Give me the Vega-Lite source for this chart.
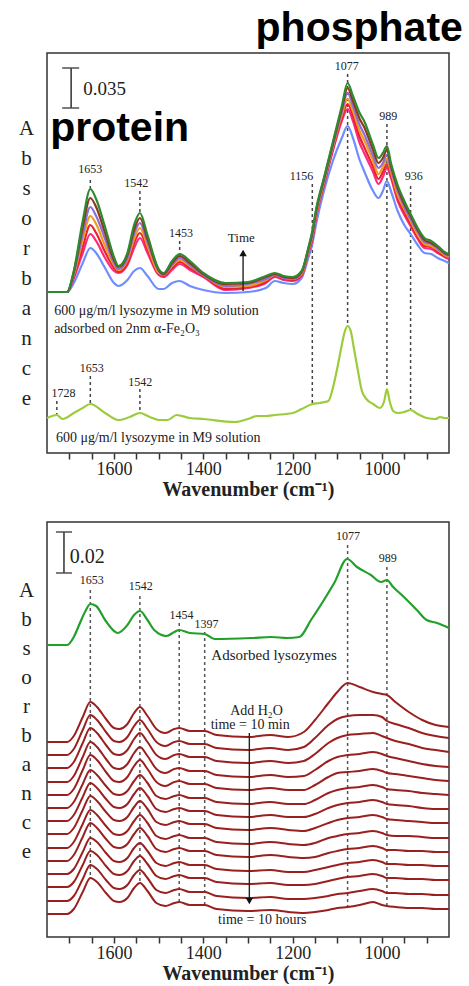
{
"$schema":"https://vega.github.io/schema/vega-lite/v6.json",
"padding":{"left":17,"top":7,"right":0,"bottom":0},
"spacing":21,
"config":{"view":{"stroke":"#333","strokeWidth":1.5},"font":"Liberation Serif",
"axisX":{"labelFontSize":18,"labelColor":"#222","labelFont":"Liberation Serif","tickSize":6,"tickWidth":1.5,"tickColor":"#333","domain":false,"grid":false,"labelPadding":1,"titleFont":"Liberation Serif","titleFontSize":20,"titleFontWeight":"bold","titleColor":"#222","titlePadding":1,"labelOverlap":false,"labelFlush":false}},
"vconcat":[
{
"width":402,"height":400,
"encoding":{
"x":{"field":"w","type":"quantitative","scale":{"domain":[850,1750],"reverse":true,"nice":false,"zero":false},"axis":{"values":[900,950,1000,1050,1100,1150,1200,1250,1300,1350,1400,1450,1500,1550,1600,1650,1700],"format":"d","labelExpr":"datum.value % 200 === 0 ? datum.label : ''","title":"Wavenumber (cm⁻¹)"}},
"y":{"field":"a","type":"quantitative","scale":{"domain":[0,400],"nice":false,"zero":false},"axis":{"title":["A","b","s","o","r","b","a","n","c","e"],"titleAngle":0,"titleAlign":"center","titleBaseline":"middle","titleX":-21,"titleY":75,"titleLineHeight":30,"titleFontSize":21,"titleFont":"Liberation Serif","titleFontWeight":"normal","titleColor":"#222","labels":false,"ticks":false,"domain":false,"grid":false}}
},
"layer":[
{"data":{"values":[{"w":1653,"a":273,"a2":264},{"w":1542,"a":262,"a2":240},{"w":1453,"a":212,"a2":199},{"w":1156,"a":269,"a2":50},{"w":1077,"a":379,"a2":127},{"w":989,"a":329,"a2":65},{"w":936,"a":267,"a2":44},{"w":1728,"a":52,"a2":39},{"w":1653,"a":77,"a2":49},{"w":1542,"a":64,"a2":41}]},
"mark":{"type":"rule","strokeDash":[3,3],"strokeWidth":1.5,"color":"#444"},"encoding":{"y2":{"field":"a2"}}},
{"data":{"values":[
{"s":"a0","w":1750,"a":161},{"s":"a0","w":1705,"a":161},{"s":"a0","w":1690,"a":170},{"s":"a0","w":1670,"a":190},{"s":"a0","w":1653,"a":205},{"s":"a0","w":1640,"a":200},{"s":"a0","w":1620,"a":185},{"s":"a0","w":1600,"a":170},{"s":"a0","w":1590,"a":167},{"s":"a0","w":1570,"a":173},{"s":"a0","w":1555,"a":182},{"s":"a0","w":1542,"a":185},{"s":"a0","w":1525,"a":177},{"s":"a0","w":1500,"a":164},{"s":"a0","w":1489,"a":164},{"s":"a0","w":1470,"a":170},{"s":"a0","w":1453,"a":172},{"s":"a0","w":1430,"a":167},{"s":"a0","w":1400,"a":163},{"s":"a0","w":1350,"a":160},{"s":"a0","w":1300,"a":161},{"s":"a0","w":1260,"a":165},{"s":"a0","w":1240,"a":172},{"s":"a0","w":1220,"a":170},{"s":"a0","w":1200,"a":169},{"s":"a0","w":1180,"a":175},{"s":"a0","w":1165,"a":195},{"s":"a0","w":1156,"a":209},{"s":"a0","w":1147,"a":230},{"s":"a0","w":1130,"a":262},{"s":"a0","w":1110,"a":292},{"s":"a0","w":1090,"a":315},{"s":"a0","w":1077,"a":327},{"s":"a0","w":1065,"a":315},{"s":"a0","w":1050,"a":293},{"s":"a0","w":1040,"a":282},{"s":"a0","w":1020,"a":262},{"s":"a0","w":1008,"a":255},{"s":"a0","w":998,"a":262},{"s":"a0","w":989,"a":272},{"s":"a0","w":980,"a":262},{"s":"a0","w":965,"a":242},{"s":"a0","w":950,"a":228},{"s":"a0","w":936,"a":219},{"s":"a0","w":920,"a":208},{"s":"a0","w":905,"a":200},{"s":"a0","w":890,"a":199},{"s":"a0","w":875,"a":195},{"s":"a0","w":860,"a":192},{"s":"a0","w":850,"a":190},
{"s":"a1","w":1750,"a":161},{"s":"a1","w":1705,"a":161},{"s":"a1","w":1690,"a":175},{"s":"a1","w":1670,"a":200},{"s":"a1","w":1653,"a":219},{"s":"a1","w":1640,"a":212},{"s":"a1","w":1620,"a":195},{"s":"a1","w":1600,"a":182},{"s":"a1","w":1590,"a":180},{"s":"a1","w":1570,"a":188},{"s":"a1","w":1555,"a":205},{"s":"a1","w":1542,"a":215},{"s":"a1","w":1525,"a":200},{"s":"a1","w":1500,"a":178},{"s":"a1","w":1489,"a":176},{"s":"a1","w":1470,"a":183},{"s":"a1","w":1453,"a":189},{"s":"a1","w":1430,"a":183},{"s":"a1","w":1400,"a":176},{"s":"a1","w":1350,"a":163},{"s":"a1","w":1300,"a":165},{"s":"a1","w":1260,"a":170},{"s":"a1","w":1240,"a":176},{"s":"a1","w":1220,"a":173},{"s":"a1","w":1200,"a":172},{"s":"a1","w":1180,"a":177},{"s":"a1","w":1165,"a":200},{"s":"a1","w":1156,"a":213},{"s":"a1","w":1147,"a":237},{"s":"a1","w":1130,"a":268},{"s":"a1","w":1110,"a":302},{"s":"a1","w":1090,"a":332},{"s":"a1","w":1077,"a":344},{"s":"a1","w":1065,"a":332},{"s":"a1","w":1050,"a":310},{"s":"a1","w":1040,"a":300},{"s":"a1","w":1020,"a":281},{"s":"a1","w":1008,"a":269},{"s":"a1","w":998,"a":276},{"s":"a1","w":989,"a":285},{"s":"a1","w":980,"a":275},{"s":"a1","w":965,"a":252},{"s":"a1","w":950,"a":238},{"s":"a1","w":936,"a":227},{"s":"a1","w":920,"a":214},{"s":"a1","w":905,"a":205},{"s":"a1","w":890,"a":204},{"s":"a1","w":875,"a":200},{"s":"a1","w":860,"a":196},{"s":"a1","w":850,"a":194},
{"s":"a2","w":1750,"a":161},{"s":"a2","w":1705,"a":161},{"s":"a2","w":1690,"a":176},{"s":"a2","w":1670,"a":206},{"s":"a2","w":1653,"a":228},{"s":"a2","w":1640,"a":220},{"s":"a2","w":1620,"a":201},{"s":"a2","w":1600,"a":185},{"s":"a2","w":1590,"a":181},{"s":"a2","w":1570,"a":190},{"s":"a2","w":1555,"a":210},{"s":"a2","w":1542,"a":220},{"s":"a2","w":1525,"a":204},{"s":"a2","w":1500,"a":179},{"s":"a2","w":1489,"a":177},{"s":"a2","w":1470,"a":185},{"s":"a2","w":1453,"a":191},{"s":"a2","w":1430,"a":185},{"s":"a2","w":1400,"a":177},{"s":"a2","w":1350,"a":164},{"s":"a2","w":1300,"a":166},{"s":"a2","w":1260,"a":171},{"s":"a2","w":1240,"a":177},{"s":"a2","w":1220,"a":174},{"s":"a2","w":1200,"a":173},{"s":"a2","w":1180,"a":178},{"s":"a2","w":1165,"a":201},{"s":"a2","w":1156,"a":215},{"s":"a2","w":1147,"a":239},{"s":"a2","w":1130,"a":269},{"s":"a2","w":1110,"a":304},{"s":"a2","w":1090,"a":335},{"s":"a2","w":1077,"a":349},{"s":"a2","w":1065,"a":337},{"s":"a2","w":1050,"a":316},{"s":"a2","w":1040,"a":306},{"s":"a2","w":1020,"a":286},{"s":"a2","w":1008,"a":274},{"s":"a2","w":998,"a":281},{"s":"a2","w":989,"a":289},{"s":"a2","w":980,"a":278},{"s":"a2","w":965,"a":255},{"s":"a2","w":950,"a":241},{"s":"a2","w":936,"a":229},{"s":"a2","w":920,"a":216},{"s":"a2","w":905,"a":207},{"s":"a2","w":890,"a":206},{"s":"a2","w":875,"a":201},{"s":"a2","w":860,"a":197},{"s":"a2","w":850,"a":195},
{"s":"a3","w":1750,"a":161},{"s":"a3","w":1705,"a":161},{"s":"a3","w":1690,"a":178},{"s":"a3","w":1670,"a":213},{"s":"a3","w":1653,"a":237},{"s":"a3","w":1640,"a":229},{"s":"a3","w":1620,"a":207},{"s":"a3","w":1600,"a":188},{"s":"a3","w":1590,"a":183},{"s":"a3","w":1570,"a":193},{"s":"a3","w":1555,"a":214},{"s":"a3","w":1542,"a":225},{"s":"a3","w":1525,"a":207},{"s":"a3","w":1500,"a":180},{"s":"a3","w":1489,"a":178},{"s":"a3","w":1470,"a":187},{"s":"a3","w":1453,"a":193},{"s":"a3","w":1430,"a":187},{"s":"a3","w":1400,"a":178},{"s":"a3","w":1350,"a":166},{"s":"a3","w":1300,"a":167},{"s":"a3","w":1260,"a":173},{"s":"a3","w":1240,"a":178},{"s":"a3","w":1220,"a":175},{"s":"a3","w":1200,"a":174},{"s":"a3","w":1180,"a":179},{"s":"a3","w":1165,"a":202},{"s":"a3","w":1156,"a":217},{"s":"a3","w":1147,"a":240},{"s":"a3","w":1130,"a":271},{"s":"a3","w":1110,"a":306},{"s":"a3","w":1090,"a":338},{"s":"a3","w":1077,"a":354},{"s":"a3","w":1065,"a":342},{"s":"a3","w":1050,"a":322},{"s":"a3","w":1040,"a":313},{"s":"a3","w":1020,"a":292},{"s":"a3","w":1008,"a":279},{"s":"a3","w":998,"a":286},{"s":"a3","w":989,"a":294},{"s":"a3","w":980,"a":281},{"s":"a3","w":965,"a":258},{"s":"a3","w":950,"a":244},{"s":"a3","w":936,"a":232},{"s":"a3","w":920,"a":218},{"s":"a3","w":905,"a":209},{"s":"a3","w":890,"a":207},{"s":"a3","w":875,"a":203},{"s":"a3","w":860,"a":198},{"s":"a3","w":850,"a":196},
{"s":"a4","w":1750,"a":161},{"s":"a4","w":1705,"a":161},{"s":"a4","w":1690,"a":179},{"s":"a4","w":1670,"a":219},{"s":"a4","w":1653,"a":246},{"s":"a4","w":1640,"a":237},{"s":"a4","w":1620,"a":214},{"s":"a4","w":1600,"a":190},{"s":"a4","w":1590,"a":184},{"s":"a4","w":1570,"a":195},{"s":"a4","w":1555,"a":219},{"s":"a4","w":1542,"a":230},{"s":"a4","w":1525,"a":211},{"s":"a4","w":1500,"a":182},{"s":"a4","w":1489,"a":178},{"s":"a4","w":1470,"a":188},{"s":"a4","w":1453,"a":195},{"s":"a4","w":1430,"a":188},{"s":"a4","w":1400,"a":178},{"s":"a4","w":1350,"a":167},{"s":"a4","w":1300,"a":169},{"s":"a4","w":1260,"a":174},{"s":"a4","w":1240,"a":178},{"s":"a4","w":1220,"a":175},{"s":"a4","w":1200,"a":174},{"s":"a4","w":1180,"a":180},{"s":"a4","w":1165,"a":203},{"s":"a4","w":1156,"a":218},{"s":"a4","w":1147,"a":242},{"s":"a4","w":1130,"a":272},{"s":"a4","w":1110,"a":307},{"s":"a4","w":1090,"a":341},{"s":"a4","w":1077,"a":360},{"s":"a4","w":1065,"a":347},{"s":"a4","w":1050,"a":328},{"s":"a4","w":1040,"a":319},{"s":"a4","w":1020,"a":297},{"s":"a4","w":1008,"a":285},{"s":"a4","w":998,"a":290},{"s":"a4","w":989,"a":298},{"s":"a4","w":980,"a":284},{"s":"a4","w":965,"a":262},{"s":"a4","w":950,"a":246},{"s":"a4","w":936,"a":234},{"s":"a4","w":920,"a":221},{"s":"a4","w":905,"a":211},{"s":"a4","w":890,"a":209},{"s":"a4","w":875,"a":204},{"s":"a4","w":860,"a":199},{"s":"a4","w":850,"a":197},
{"s":"a5","w":1750,"a":161},{"s":"a5","w":1705,"a":161},{"s":"a5","w":1690,"a":181},{"s":"a5","w":1670,"a":226},{"s":"a5","w":1653,"a":255},{"s":"a5","w":1640,"a":246},{"s":"a5","w":1620,"a":220},{"s":"a5","w":1600,"a":193},{"s":"a5","w":1590,"a":186},{"s":"a5","w":1570,"a":198},{"s":"a5","w":1555,"a":223},{"s":"a5","w":1542,"a":235},{"s":"a5","w":1525,"a":214},{"s":"a5","w":1500,"a":183},{"s":"a5","w":1489,"a":179},{"s":"a5","w":1470,"a":190},{"s":"a5","w":1453,"a":197},{"s":"a5","w":1430,"a":190},{"s":"a5","w":1400,"a":179},{"s":"a5","w":1350,"a":169},{"s":"a5","w":1300,"a":170},{"s":"a5","w":1260,"a":176},{"s":"a5","w":1240,"a":179},{"s":"a5","w":1220,"a":176},{"s":"a5","w":1200,"a":175},{"s":"a5","w":1180,"a":181},{"s":"a5","w":1165,"a":204},{"s":"a5","w":1156,"a":220},{"s":"a5","w":1147,"a":243},{"s":"a5","w":1130,"a":274},{"s":"a5","w":1110,"a":309},{"s":"a5","w":1090,"a":344},{"s":"a5","w":1077,"a":365},{"s":"a5","w":1065,"a":352},{"s":"a5","w":1050,"a":334},{"s":"a5","w":1040,"a":326},{"s":"a5","w":1020,"a":303},{"s":"a5","w":1008,"a":290},{"s":"a5","w":998,"a":295},{"s":"a5","w":989,"a":303},{"s":"a5","w":980,"a":287},{"s":"a5","w":965,"a":265},{"s":"a5","w":950,"a":249},{"s":"a5","w":936,"a":237},{"s":"a5","w":920,"a":223},{"s":"a5","w":905,"a":213},{"s":"a5","w":890,"a":210},{"s":"a5","w":875,"a":206},{"s":"a5","w":860,"a":200},{"s":"a5","w":850,"a":198},
{"s":"a6","w":1750,"a":161},{"s":"a6","w":1705,"a":161},{"s":"a6","w":1690,"a":182},{"s":"a6","w":1670,"a":232},{"s":"a6","w":1653,"a":264},{"s":"a6","w":1640,"a":254},{"s":"a6","w":1620,"a":226},{"s":"a6","w":1600,"a":196},{"s":"a6","w":1590,"a":187},{"s":"a6","w":1570,"a":200},{"s":"a6","w":1555,"a":228},{"s":"a6","w":1542,"a":240},{"s":"a6","w":1525,"a":218},{"s":"a6","w":1500,"a":184},{"s":"a6","w":1489,"a":180},{"s":"a6","w":1470,"a":192},{"s":"a6","w":1453,"a":199},{"s":"a6","w":1430,"a":192},{"s":"a6","w":1400,"a":180},{"s":"a6","w":1350,"a":170},{"s":"a6","w":1300,"a":171},{"s":"a6","w":1260,"a":177},{"s":"a6","w":1240,"a":180},{"s":"a6","w":1220,"a":177},{"s":"a6","w":1200,"a":176},{"s":"a6","w":1180,"a":182},{"s":"a6","w":1165,"a":205},{"s":"a6","w":1156,"a":222},{"s":"a6","w":1147,"a":245},{"s":"a6","w":1130,"a":275},{"s":"a6","w":1110,"a":311},{"s":"a6","w":1090,"a":347},{"s":"a6","w":1077,"a":370},{"s":"a6","w":1065,"a":357},{"s":"a6","w":1050,"a":340},{"s":"a6","w":1040,"a":332},{"s":"a6","w":1020,"a":308},{"s":"a6","w":1008,"a":295},{"s":"a6","w":998,"a":300},{"s":"a6","w":989,"a":307},{"s":"a6","w":980,"a":290},{"s":"a6","w":965,"a":268},{"s":"a6","w":950,"a":252},{"s":"a6","w":936,"a":239},{"s":"a6","w":920,"a":225},{"s":"a6","w":905,"a":215},{"s":"a6","w":890,"a":212},{"s":"a6","w":875,"a":207},{"s":"a6","w":860,"a":201},{"s":"a6","w":850,"a":199}
]},
"mark":{"type":"line","interpolate":"monotone","strokeWidth":2.2},
"encoding":{"color":{"field":"s","type":"nominal","scale":{"domain":["a0","a1","a2","a3","a4","a5","a6"],"range":["#6f8dff","#ff2a80","#e8232d","#f39a1e","#8a6fd6","#8b3a1e","#2f8a2f"]},"legend":null}}},
{"data":{"values":[{"w":1750,"a":35},{"w":1728,"a":38},{"w":1715,"a":34},{"w":1690,"a":40},{"w":1670,"a":45},{"w":1653,"a":49},{"w":1620,"a":40},{"w":1590,"a":33},{"w":1565,"a":36},{"w":1542,"a":40},{"w":1520,"a":36},{"w":1500,"a":33},{"w":1480,"a":33},{"w":1460,"a":38},{"w":1430,"a":35},{"w":1400,"a":34},{"w":1330,"a":31},{"w":1300,"a":34},{"w":1280,"a":37},{"w":1260,"a":37},{"w":1240,"a":38},{"w":1200,"a":40},{"w":1180,"a":44},{"w":1156,"a":49},{"w":1140,"a":50},{"w":1120,"a":52},{"w":1110,"a":65},{"w":1100,"a":85},{"w":1090,"a":108},{"w":1083,"a":122},{"w":1077,"a":127},{"w":1070,"a":122},{"w":1063,"a":105},{"w":1055,"a":85},{"w":1045,"a":62},{"w":1035,"a":54},{"w":1020,"a":49},{"w":1005,"a":45},{"w":995,"a":52},{"w":989,"a":64},{"w":983,"a":52},{"w":975,"a":42},{"w":965,"a":40},{"w":950,"a":41},{"w":936,"a":43},{"w":920,"a":39},{"w":900,"a":35},{"w":880,"a":34},{"w":870,"a":36},{"w":860,"a":35},{"w":850,"a":35}]},
"mark":{"type":"line","interpolate":"monotone","strokeWidth":2.2,"color":"#9ccc3c"}},
{"data":{"values":[{"w":1653,"a":284,"label":"1653"},{"w":1550,"a":270,"label":"1542"},{"w":1450,"a":220,"label":"1453"},{"w":1180,"a":277,"label":"1156"},{"w":1079,"a":387,"label":"1077"},{"w":986,"a":337,"label":"989"},{"w":929,"a":277,"label":"936"},{"w":1713,"a":60,"label":"1728"},{"w":1650,"a":85,"label":"1653"},{"w":1541,"a":71,"label":"1542"}]},
"mark":{"type":"text","fontSize":12,"baseline":"middle","align":"center","color":"#222"},"encoding":{"text":{"field":"label"}}},
{"data":{"values":[{"w":1734,"a":142,"label":"600 μg/m/l lysozyme in M9 solution"},{"w":1734,"a":124,"label":"adsorbed on 2nm α-Fe₂O₃"},{"w":1730,"a":15,"label":"600 μg/m/l lysozyme in M9 solution"}]},
"mark":{"type":"text","fontSize":14,"baseline":"middle","align":"left","color":"#222"},"encoding":{"text":{"field":"label"}}},
{"data":{"values":[{"w":1315,"a":215,"label":"Time"}]},
"mark":{"type":"text","fontSize":13,"baseline":"middle","align":"center","color":"#222"},"encoding":{"text":{"field":"label"}}},
{"data":{"values":[{"w":1669,"a":364,"label":"0.035"}]},
"mark":{"type":"text","fontSize":19,"baseline":"middle","align":"left","color":"#222"},"encoding":{"text":{"field":"label"}}},
{"data":{"values":[{"w":1743,"a":312,"label":"protein"}]},
"mark":{"type":"text","font":"Liberation Sans","fontWeight":"bold","fontSize":41,"baseline":"alphabetic","align":"left","color":"#000"},"encoding":{"text":{"field":"label"}}},
{"data":{"values":[{"w":819,"a":412,"label":"phosphate"}]},
"mark":{"type":"text","font":"Liberation Sans","fontWeight":"bold","fontSize":41,"baseline":"alphabetic","align":"right","color":"#000"},"encoding":{"text":{"field":"label"}}},
{"data":{"values":[{"w":1311,"a":162,"a2":198},{"w":1696,"a":385,"a2":345}]},
"mark":{"type":"rule","strokeWidth":1.4,"color":"#222"},"encoding":{"y2":{"field":"a2"}}},
{"data":{"values":[{"w":1716,"w2":1678,"a":385},{"w":1716,"w2":1678,"a":345}]},
"mark":{"type":"rule","strokeWidth":1.4,"color":"#444"},"encoding":{"x2":{"field":"w2"}}},
{"data":{"values":[{"w":1311,"a":200}]},
"mark":{"type":"point","shape":"triangle-up","filled":true,"size":55,"color":"#111","opacity":1}}
]
},
{
"width":402,"height":415,
"encoding":{
"x":{"field":"w","type":"quantitative","scale":{"domain":[850,1750],"reverse":true,"nice":false,"zero":false},"axis":{"values":[900,950,1000,1050,1100,1150,1200,1250,1300,1350,1400,1450,1500,1550,1600,1650,1700],"format":"d","labelExpr":"datum.value % 200 === 0 ? datum.label : ''","title":"Wavenumber (cm⁻¹)"}},
"y":{"field":"a","type":"quantitative","scale":{"domain":[0,415],"nice":false,"zero":false},"axis":{"title":["A","b","s","o","r","b","a","n","c","e"],"titleAngle":0,"titleAlign":"center","titleBaseline":"middle","titleX":-21,"titleY":68,"titleLineHeight":29,"titleFontSize":21,"titleFont":"Liberation Serif","titleFontWeight":"normal","titleColor":"#222","labels":false,"ticks":false,"domain":false,"grid":false}}
},
"layer":[
{"data":{"values":[{"w":1653,"a":347,"a2":59},{"w":1542,"a":341,"a2":54},{"w":1454,"a":314,"a2":32},{"w":1397,"a":305,"a2":32},{"w":1077,"a":392,"a2":30},{"w":989,"a":370,"a2":30}]},
"mark":{"type":"rule","strokeDash":[3,3],"strokeWidth":1.5,"color":"#555"},"encoding":{"y2":{"field":"a2"}}},
{"data":{"values":[
{"s":"r01","w":1750,"a":195},{"s":"r01","w":1705,"a":195},{"s":"r01","w":1690,"a":201},{"s":"r01","w":1670,"a":220},{"s":"r01","w":1653,"a":235},{"s":"r01","w":1638,"a":230},{"s":"r01","w":1618,"a":218},{"s":"r01","w":1600,"a":209},{"s":"r01","w":1588,"a":208},{"s":"r01","w":1570,"a":213},{"s":"r01","w":1555,"a":224},{"s":"r01","w":1542,"a":230},{"s":"r01","w":1525,"a":221},{"s":"r01","w":1505,"a":208},{"s":"r01","w":1485,"a":204},{"s":"r01","w":1465,"a":208},{"s":"r01","w":1454,"a":209},{"s":"r01","w":1430,"a":206},{"s":"r01","w":1397,"a":206},{"s":"r01","w":1370,"a":202},{"s":"r01","w":1300,"a":200},{"s":"r01","w":1250,"a":202},{"s":"r01","w":1210,"a":200},{"s":"r01","w":1175,"a":205},{"s":"r01","w":1150,"a":217},{"s":"r01","w":1120,"a":234},{"s":"r01","w":1100,"a":245},{"s":"r01","w":1077,"a":254},{"s":"r01","w":1050,"a":250},{"s":"r01","w":1020,"a":245},{"s":"r01","w":1000,"a":243},{"s":"r01","w":989,"a":242},{"s":"r01","w":970,"a":235},{"s":"r01","w":940,"a":225},{"s":"r01","w":910,"a":217},{"s":"r01","w":880,"a":212},{"s":"r01","w":850,"a":210},
{"s":"r02","w":1750,"a":182},{"s":"r02","w":1705,"a":182},{"s":"r02","w":1690,"a":188},{"s":"r02","w":1670,"a":207},{"s":"r02","w":1653,"a":222},{"s":"r02","w":1638,"a":217},{"s":"r02","w":1618,"a":205},{"s":"r02","w":1600,"a":196},{"s":"r02","w":1588,"a":195},{"s":"r02","w":1570,"a":200},{"s":"r02","w":1555,"a":211},{"s":"r02","w":1542,"a":217},{"s":"r02","w":1525,"a":208},{"s":"r02","w":1505,"a":195},{"s":"r02","w":1485,"a":191},{"s":"r02","w":1465,"a":195},{"s":"r02","w":1454,"a":196},{"s":"r02","w":1430,"a":193},{"s":"r02","w":1397,"a":193},{"s":"r02","w":1370,"a":189},{"s":"r02","w":1300,"a":187},{"s":"r02","w":1250,"a":189},{"s":"r02","w":1210,"a":187},{"s":"r02","w":1175,"a":190},{"s":"r02","w":1150,"a":199},{"s":"r02","w":1120,"a":212},{"s":"r02","w":1100,"a":218},{"s":"r02","w":1077,"a":221},{"s":"r02","w":1050,"a":222},{"s":"r02","w":1020,"a":222},{"s":"r02","w":1000,"a":220},{"s":"r02","w":989,"a":216},{"s":"r02","w":970,"a":213},{"s":"r02","w":940,"a":209},{"s":"r02","w":910,"a":204},{"s":"r02","w":880,"a":201},{"s":"r02","w":850,"a":199},
{"s":"r03","w":1750,"a":169},{"s":"r03","w":1705,"a":169},{"s":"r03","w":1690,"a":175},{"s":"r03","w":1670,"a":194},{"s":"r03","w":1653,"a":209},{"s":"r03","w":1638,"a":204},{"s":"r03","w":1618,"a":192},{"s":"r03","w":1600,"a":183},{"s":"r03","w":1588,"a":182},{"s":"r03","w":1570,"a":187},{"s":"r03","w":1555,"a":198},{"s":"r03","w":1542,"a":204},{"s":"r03","w":1525,"a":195},{"s":"r03","w":1505,"a":182},{"s":"r03","w":1485,"a":178},{"s":"r03","w":1465,"a":182},{"s":"r03","w":1454,"a":183},{"s":"r03","w":1430,"a":180},{"s":"r03","w":1397,"a":180},{"s":"r03","w":1370,"a":176},{"s":"r03","w":1300,"a":174},{"s":"r03","w":1250,"a":176},{"s":"r03","w":1210,"a":174},{"s":"r03","w":1175,"a":176},{"s":"r03","w":1150,"a":183},{"s":"r03","w":1120,"a":194},{"s":"r03","w":1100,"a":199},{"s":"r03","w":1077,"a":202},{"s":"r03","w":1050,"a":203},{"s":"r03","w":1020,"a":204},{"s":"r03","w":1000,"a":201},{"s":"r03","w":989,"a":199},{"s":"r03","w":970,"a":196},{"s":"r03","w":940,"a":193},{"s":"r03","w":910,"a":189},{"s":"r03","w":880,"a":187},{"s":"r03","w":850,"a":185},
{"s":"r04","w":1750,"a":155},{"s":"r04","w":1705,"a":155},{"s":"r04","w":1690,"a":161},{"s":"r04","w":1670,"a":180},{"s":"r04","w":1653,"a":195},{"s":"r04","w":1638,"a":190},{"s":"r04","w":1618,"a":178},{"s":"r04","w":1600,"a":169},{"s":"r04","w":1588,"a":168},{"s":"r04","w":1570,"a":173},{"s":"r04","w":1555,"a":184},{"s":"r04","w":1542,"a":190},{"s":"r04","w":1525,"a":181},{"s":"r04","w":1505,"a":168},{"s":"r04","w":1485,"a":164},{"s":"r04","w":1465,"a":168},{"s":"r04","w":1454,"a":169},{"s":"r04","w":1430,"a":166},{"s":"r04","w":1397,"a":166},{"s":"r04","w":1370,"a":162},{"s":"r04","w":1300,"a":160},{"s":"r04","w":1250,"a":162},{"s":"r04","w":1210,"a":160},{"s":"r04","w":1175,"a":161},{"s":"r04","w":1150,"a":167},{"s":"r04","w":1120,"a":176},{"s":"r04","w":1100,"a":180},{"s":"r04","w":1077,"a":182},{"s":"r04","w":1050,"a":183},{"s":"r04","w":1020,"a":185},{"s":"r04","w":1000,"a":183},{"s":"r04","w":989,"a":181},{"s":"r04","w":970,"a":179},{"s":"r04","w":940,"a":176},{"s":"r04","w":910,"a":173},{"s":"r04","w":880,"a":171},{"s":"r04","w":850,"a":170},
{"s":"r05","w":1750,"a":142},{"s":"r05","w":1705,"a":142},{"s":"r05","w":1690,"a":148},{"s":"r05","w":1670,"a":167},{"s":"r05","w":1653,"a":182},{"s":"r05","w":1638,"a":177},{"s":"r05","w":1618,"a":165},{"s":"r05","w":1600,"a":156},{"s":"r05","w":1588,"a":155},{"s":"r05","w":1570,"a":160},{"s":"r05","w":1555,"a":171},{"s":"r05","w":1542,"a":177},{"s":"r05","w":1525,"a":168},{"s":"r05","w":1505,"a":155},{"s":"r05","w":1485,"a":151},{"s":"r05","w":1465,"a":155},{"s":"r05","w":1454,"a":156},{"s":"r05","w":1430,"a":153},{"s":"r05","w":1397,"a":153},{"s":"r05","w":1370,"a":149},{"s":"r05","w":1300,"a":147},{"s":"r05","w":1250,"a":149},{"s":"r05","w":1210,"a":147},{"s":"r05","w":1175,"a":147},{"s":"r05","w":1150,"a":152},{"s":"r05","w":1120,"a":160},{"s":"r05","w":1100,"a":164},{"s":"r05","w":1077,"a":165},{"s":"r05","w":1050,"a":166},{"s":"r05","w":1020,"a":168},{"s":"r05","w":1000,"a":166},{"s":"r05","w":989,"a":164},{"s":"r05","w":970,"a":163},{"s":"r05","w":940,"a":161},{"s":"r05","w":910,"a":159},{"s":"r05","w":880,"a":157},{"s":"r05","w":850,"a":156},
{"s":"r06","w":1750,"a":129},{"s":"r06","w":1705,"a":129},{"s":"r06","w":1690,"a":135},{"s":"r06","w":1670,"a":153},{"s":"r06","w":1653,"a":167},{"s":"r06","w":1638,"a":162},{"s":"r06","w":1618,"a":151},{"s":"r06","w":1600,"a":143},{"s":"r06","w":1588,"a":142},{"s":"r06","w":1570,"a":146},{"s":"r06","w":1555,"a":156},{"s":"r06","w":1542,"a":162},{"s":"r06","w":1525,"a":154},{"s":"r06","w":1505,"a":141},{"s":"r06","w":1485,"a":138},{"s":"r06","w":1465,"a":141},{"s":"r06","w":1454,"a":142},{"s":"r06","w":1430,"a":139},{"s":"r06","w":1397,"a":139},{"s":"r06","w":1370,"a":135},{"s":"r06","w":1300,"a":133},{"s":"r06","w":1250,"a":135},{"s":"r06","w":1210,"a":133},{"s":"r06","w":1175,"a":133},{"s":"r06","w":1150,"a":137},{"s":"r06","w":1120,"a":144},{"s":"r06","w":1100,"a":147},{"s":"r06","w":1077,"a":149},{"s":"r06","w":1050,"a":150},{"s":"r06","w":1020,"a":152},{"s":"r06","w":1000,"a":150},{"s":"r06","w":989,"a":148},{"s":"r06","w":970,"a":147},{"s":"r06","w":940,"a":146},{"s":"r06","w":910,"a":144},{"s":"r06","w":880,"a":143},{"s":"r06","w":850,"a":142},
{"s":"r07","w":1750,"a":116},{"s":"r07","w":1705,"a":116},{"s":"r07","w":1690,"a":122},{"s":"r07","w":1670,"a":140},{"s":"r07","w":1653,"a":154},{"s":"r07","w":1638,"a":149},{"s":"r07","w":1618,"a":138},{"s":"r07","w":1600,"a":130},{"s":"r07","w":1588,"a":129},{"s":"r07","w":1570,"a":133},{"s":"r07","w":1555,"a":143},{"s":"r07","w":1542,"a":149},{"s":"r07","w":1525,"a":141},{"s":"r07","w":1505,"a":128},{"s":"r07","w":1485,"a":125},{"s":"r07","w":1465,"a":128},{"s":"r07","w":1454,"a":129},{"s":"r07","w":1430,"a":126},{"s":"r07","w":1397,"a":126},{"s":"r07","w":1370,"a":122},{"s":"r07","w":1300,"a":120},{"s":"r07","w":1250,"a":122},{"s":"r07","w":1210,"a":120},{"s":"r07","w":1175,"a":120},{"s":"r07","w":1150,"a":123},{"s":"r07","w":1120,"a":129},{"s":"r07","w":1100,"a":132},{"s":"r07","w":1077,"a":134},{"s":"r07","w":1050,"a":135},{"s":"r07","w":1020,"a":137},{"s":"r07","w":1000,"a":135},{"s":"r07","w":989,"a":133},{"s":"r07","w":970,"a":132},{"s":"r07","w":940,"a":131},{"s":"r07","w":910,"a":129},{"s":"r07","w":880,"a":128},{"s":"r07","w":850,"a":128},
{"s":"r08","w":1750,"a":103},{"s":"r08","w":1705,"a":103},{"s":"r08","w":1690,"a":109},{"s":"r08","w":1670,"a":127},{"s":"r08","w":1653,"a":141},{"s":"r08","w":1638,"a":136},{"s":"r08","w":1618,"a":125},{"s":"r08","w":1600,"a":117},{"s":"r08","w":1588,"a":116},{"s":"r08","w":1570,"a":120},{"s":"r08","w":1555,"a":130},{"s":"r08","w":1542,"a":136},{"s":"r08","w":1525,"a":128},{"s":"r08","w":1505,"a":115},{"s":"r08","w":1485,"a":112},{"s":"r08","w":1465,"a":115},{"s":"r08","w":1454,"a":116},{"s":"r08","w":1430,"a":113},{"s":"r08","w":1397,"a":113},{"s":"r08","w":1370,"a":109},{"s":"r08","w":1300,"a":107},{"s":"r08","w":1250,"a":109},{"s":"r08","w":1210,"a":107},{"s":"r08","w":1175,"a":106},{"s":"r08","w":1150,"a":109},{"s":"r08","w":1120,"a":114},{"s":"r08","w":1100,"a":117},{"s":"r08","w":1077,"a":119},{"s":"r08","w":1050,"a":120},{"s":"r08","w":1020,"a":122},{"s":"r08","w":1000,"a":120},{"s":"r08","w":989,"a":118},{"s":"r08","w":970,"a":117},{"s":"r08","w":940,"a":116},{"s":"r08","w":910,"a":115},{"s":"r08","w":880,"a":114},{"s":"r08","w":850,"a":114},
{"s":"r09","w":1750,"a":89},{"s":"r09","w":1705,"a":89},{"s":"r09","w":1690,"a":95},{"s":"r09","w":1670,"a":113},{"s":"r09","w":1653,"a":127},{"s":"r09","w":1638,"a":122},{"s":"r09","w":1618,"a":111},{"s":"r09","w":1600,"a":103},{"s":"r09","w":1588,"a":102},{"s":"r09","w":1570,"a":106},{"s":"r09","w":1555,"a":116},{"s":"r09","w":1542,"a":122},{"s":"r09","w":1525,"a":114},{"s":"r09","w":1505,"a":101},{"s":"r09","w":1485,"a":98},{"s":"r09","w":1465,"a":101},{"s":"r09","w":1454,"a":102},{"s":"r09","w":1430,"a":99},{"s":"r09","w":1397,"a":99},{"s":"r09","w":1370,"a":95},{"s":"r09","w":1300,"a":93},{"s":"r09","w":1250,"a":95},{"s":"r09","w":1210,"a":93},{"s":"r09","w":1175,"a":92},{"s":"r09","w":1150,"a":94},{"s":"r09","w":1120,"a":99},{"s":"r09","w":1100,"a":101},{"s":"r09","w":1077,"a":103},{"s":"r09","w":1050,"a":104},{"s":"r09","w":1020,"a":106},{"s":"r09","w":1000,"a":104},{"s":"r09","w":989,"a":102},{"s":"r09","w":970,"a":101},{"s":"r09","w":940,"a":101},{"s":"r09","w":910,"a":100},{"s":"r09","w":880,"a":99},{"s":"r09","w":850,"a":99},
{"s":"r10","w":1750,"a":76},{"s":"r10","w":1705,"a":76},{"s":"r10","w":1690,"a":82},{"s":"r10","w":1670,"a":100},{"s":"r10","w":1653,"a":114},{"s":"r10","w":1638,"a":109},{"s":"r10","w":1618,"a":98},{"s":"r10","w":1600,"a":90},{"s":"r10","w":1588,"a":89},{"s":"r10","w":1570,"a":93},{"s":"r10","w":1555,"a":103},{"s":"r10","w":1542,"a":109},{"s":"r10","w":1525,"a":101},{"s":"r10","w":1505,"a":88},{"s":"r10","w":1485,"a":85},{"s":"r10","w":1465,"a":88},{"s":"r10","w":1454,"a":89},{"s":"r10","w":1430,"a":86},{"s":"r10","w":1397,"a":86},{"s":"r10","w":1370,"a":82},{"s":"r10","w":1300,"a":80},{"s":"r10","w":1250,"a":82},{"s":"r10","w":1210,"a":80},{"s":"r10","w":1175,"a":79},{"s":"r10","w":1150,"a":80},{"s":"r10","w":1120,"a":84},{"s":"r10","w":1100,"a":86},{"s":"r10","w":1077,"a":88},{"s":"r10","w":1050,"a":89},{"s":"r10","w":1020,"a":91},{"s":"r10","w":1000,"a":89},{"s":"r10","w":989,"a":87},{"s":"r10","w":970,"a":87},{"s":"r10","w":940,"a":86},{"s":"r10","w":910,"a":86},{"s":"r10","w":880,"a":85},{"s":"r10","w":850,"a":85},
{"s":"r11","w":1750,"a":63},{"s":"r11","w":1705,"a":63},{"s":"r11","w":1690,"a":68},{"s":"r11","w":1670,"a":85},{"s":"r11","w":1653,"a":99},{"s":"r11","w":1638,"a":95},{"s":"r11","w":1618,"a":84},{"s":"r11","w":1600,"a":76},{"s":"r11","w":1588,"a":75},{"s":"r11","w":1570,"a":79},{"s":"r11","w":1555,"a":89},{"s":"r11","w":1542,"a":94},{"s":"r11","w":1525,"a":86},{"s":"r11","w":1505,"a":74},{"s":"r11","w":1485,"a":71},{"s":"r11","w":1465,"a":74},{"s":"r11","w":1454,"a":75},{"s":"r11","w":1430,"a":72},{"s":"r11","w":1397,"a":72},{"s":"r11","w":1370,"a":68},{"s":"r11","w":1300,"a":66},{"s":"r11","w":1250,"a":67},{"s":"r11","w":1210,"a":65},{"s":"r11","w":1175,"a":65},{"s":"r11","w":1150,"a":67},{"s":"r11","w":1120,"a":70},{"s":"r11","w":1100,"a":72},{"s":"r11","w":1077,"a":74},{"s":"r11","w":1050,"a":75},{"s":"r11","w":1020,"a":77},{"s":"r11","w":1000,"a":75},{"s":"r11","w":989,"a":73},{"s":"r11","w":970,"a":73},{"s":"r11","w":940,"a":72},{"s":"r11","w":910,"a":72},{"s":"r11","w":880,"a":71},{"s":"r11","w":850,"a":71},
{"s":"r12","w":1750,"a":50},{"s":"r12","w":1705,"a":50},{"s":"r12","w":1690,"a":55},{"s":"r12","w":1670,"a":72},{"s":"r12","w":1653,"a":86},{"s":"r12","w":1638,"a":82},{"s":"r12","w":1618,"a":71},{"s":"r12","w":1600,"a":63},{"s":"r12","w":1588,"a":62},{"s":"r12","w":1570,"a":66},{"s":"r12","w":1555,"a":76},{"s":"r12","w":1542,"a":81},{"s":"r12","w":1525,"a":73},{"s":"r12","w":1505,"a":61},{"s":"r12","w":1485,"a":58},{"s":"r12","w":1465,"a":61},{"s":"r12","w":1454,"a":62},{"s":"r12","w":1430,"a":59},{"s":"r12","w":1397,"a":59},{"s":"r12","w":1370,"a":55},{"s":"r12","w":1300,"a":53},{"s":"r12","w":1250,"a":54},{"s":"r12","w":1210,"a":52},{"s":"r12","w":1175,"a":52},{"s":"r12","w":1150,"a":53},{"s":"r12","w":1120,"a":56},{"s":"r12","w":1100,"a":58},{"s":"r12","w":1077,"a":60},{"s":"r12","w":1050,"a":61},{"s":"r12","w":1020,"a":63},{"s":"r12","w":1000,"a":61},{"s":"r12","w":989,"a":59},{"s":"r12","w":970,"a":59},{"s":"r12","w":940,"a":58},{"s":"r12","w":910,"a":58},{"s":"r12","w":880,"a":57},{"s":"r12","w":850,"a":57},
{"s":"r13","w":1750,"a":36},{"s":"r13","w":1705,"a":36},{"s":"r13","w":1690,"a":41},{"s":"r13","w":1670,"a":58},{"s":"r13","w":1653,"a":72},{"s":"r13","w":1638,"a":68},{"s":"r13","w":1618,"a":57},{"s":"r13","w":1600,"a":49},{"s":"r13","w":1588,"a":48},{"s":"r13","w":1570,"a":52},{"s":"r13","w":1555,"a":62},{"s":"r13","w":1542,"a":67},{"s":"r13","w":1525,"a":59},{"s":"r13","w":1505,"a":47},{"s":"r13","w":1485,"a":44},{"s":"r13","w":1465,"a":47},{"s":"r13","w":1454,"a":48},{"s":"r13","w":1430,"a":45},{"s":"r13","w":1397,"a":45},{"s":"r13","w":1370,"a":41},{"s":"r13","w":1300,"a":39},{"s":"r13","w":1250,"a":40},{"s":"r13","w":1210,"a":38},{"s":"r13","w":1175,"a":38},{"s":"r13","w":1150,"a":39},{"s":"r13","w":1120,"a":41},{"s":"r13","w":1100,"a":43},{"s":"r13","w":1077,"a":44},{"s":"r13","w":1050,"a":46},{"s":"r13","w":1020,"a":48},{"s":"r13","w":1000,"a":46},{"s":"r13","w":989,"a":44},{"s":"r13","w":970,"a":44},{"s":"r13","w":940,"a":43},{"s":"r13","w":910,"a":43},{"s":"r13","w":880,"a":42},{"s":"r13","w":850,"a":42},
{"s":"r14","w":1750,"a":23},{"s":"r14","w":1705,"a":23},{"s":"r14","w":1690,"a":28},{"s":"r14","w":1670,"a":45},{"s":"r14","w":1653,"a":59},{"s":"r14","w":1638,"a":55},{"s":"r14","w":1618,"a":44},{"s":"r14","w":1600,"a":36},{"s":"r14","w":1588,"a":35},{"s":"r14","w":1570,"a":39},{"s":"r14","w":1555,"a":49},{"s":"r14","w":1542,"a":54},{"s":"r14","w":1525,"a":46},{"s":"r14","w":1505,"a":34},{"s":"r14","w":1485,"a":31},{"s":"r14","w":1465,"a":34},{"s":"r14","w":1454,"a":35},{"s":"r14","w":1430,"a":32},{"s":"r14","w":1397,"a":32},{"s":"r14","w":1370,"a":28},{"s":"r14","w":1300,"a":26},{"s":"r14","w":1250,"a":27},{"s":"r14","w":1210,"a":25},{"s":"r14","w":1175,"a":24},{"s":"r14","w":1150,"a":25},{"s":"r14","w":1120,"a":27},{"s":"r14","w":1100,"a":29},{"s":"r14","w":1077,"a":30},{"s":"r14","w":1050,"a":32},{"s":"r14","w":1020,"a":35},{"s":"r14","w":1000,"a":32},{"s":"r14","w":989,"a":31},{"s":"r14","w":970,"a":30},{"s":"r14","w":940,"a":29},{"s":"r14","w":910,"a":29},{"s":"r14","w":880,"a":28},{"s":"r14","w":850,"a":28}
]},
"mark":{"type":"line","interpolate":"monotone","strokeWidth":2,"color":"#9a1f1f"},
"encoding":{"detail":{"field":"s","type":"nominal"}}},
{"data":{"values":[{"w":1750,"a":292},{"w":1705,"a":292},{"w":1690,"a":300},{"w":1680,"a":310},{"w":1665,"a":325},{"w":1653,"a":333},{"w":1640,"a":331},{"w":1620,"a":317},{"w":1600,"a":306},{"w":1592,"a":304},{"w":1570,"a":312},{"w":1555,"a":322},{"w":1542,"a":326},{"w":1525,"a":317},{"w":1510,"a":307},{"w":1482,"a":301},{"w":1465,"a":305},{"w":1454,"a":307},{"w":1430,"a":304},{"w":1397,"a":303},{"w":1375,"a":298},{"w":1293,"a":299},{"w":1248,"a":300},{"w":1212,"a":299},{"w":1185,"a":300},{"w":1159,"a":317},{"w":1130,"a":337},{"w":1107,"a":354},{"w":1078,"a":378},{"w":1056,"a":370},{"w":1025,"a":362},{"w":1002,"a":355},{"w":989,"a":357},{"w":975,"a":350},{"w":951,"a":340},{"w":922,"a":327},{"w":900,"a":317},{"w":877,"a":314},{"w":850,"a":309}]},
"mark":{"type":"line","interpolate":"monotone","strokeWidth":2.2,"color":"#22a02a"}},
{"data":{"values":[{"w":1650,"a":357,"label":"1653"},{"w":1540,"a":351,"label":"1542"},{"w":1449,"a":322,"label":"1454"},{"w":1393,"a":313,"label":"1397"},{"w":1076,"a":401,"label":"1077"},{"w":987,"a":379,"label":"989"}]},
"mark":{"type":"text","fontSize":12,"baseline":"middle","align":"center","color":"#222"},"encoding":{"text":{"field":"label"}}},
{"data":{"values":[{"w":1382,"a":282,"label":"Adsorbed lysozymes"}]},
"mark":{"type":"text","fontSize":15,"baseline":"middle","align":"left","color":"#222"},"encoding":{"text":{"field":"label"}}},
{"data":{"values":[{"w":1281,"a":226,"label":"Add H₂O"},{"w":1295,"a":212,"label":"time = 10 min"},{"w":1268,"a":17,"label":"time = 10 hours"}]},
"mark":{"type":"text","fontSize":14,"baseline":"middle","align":"center","color":"#222"},"encoding":{"text":{"field":"label"}}},
{"data":{"values":[{"w":1699,"a":380,"label":"0.02"}]},
"mark":{"type":"text","fontSize":20,"baseline":"middle","align":"left","color":"#222"},"encoding":{"text":{"field":"label"}}},
{"data":{"values":[{"w":1297,"a":204,"a2":38},{"w":1712,"a":405,"a2":364}]},
"mark":{"type":"rule","strokeWidth":1.4,"color":"#222"},"encoding":{"y2":{"field":"a2"}}},
{"data":{"values":[{"w":1730,"w2":1694,"a":405},{"w":1730,"w2":1694,"a":364}]},
"mark":{"type":"rule","strokeWidth":1.4,"color":"#444"},"encoding":{"x2":{"field":"w2"}}},
{"data":{"values":[{"w":1297,"a":36}]},
"mark":{"type":"point","shape":"triangle-down","filled":true,"size":55,"color":"#111","opacity":1}}
]
}
]
}
